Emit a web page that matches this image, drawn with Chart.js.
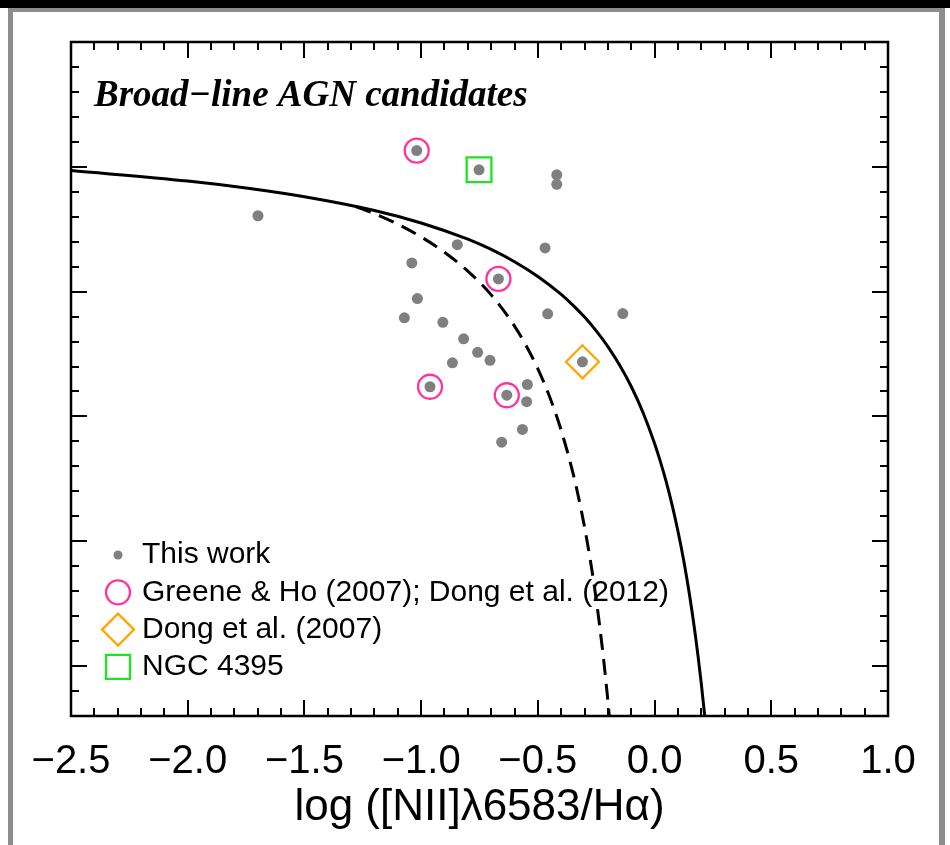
<!DOCTYPE html>
<html>
<head>
<meta charset="utf-8">
<title>Broad-line AGN candidates</title>
<script src="https://cdn.jsdelivr.net/npm/chart.js@4.4.1/dist/chart.umd.min.js"></script>
<style>
  html, body { margin: 0; padding: 0; background: #fff; }
  #page { position: relative; width: 950px; height: 845px; overflow: hidden; background: #fff; }
  #bar { position: absolute; left: 0; top: 0; width: 950px; height: 8px; background: #000; }
  #frame { position: absolute; left: 8px; top: 8px; width: 926px; height: 860px;
           border-left: 5px solid #8c8c8c; border-right: 6px solid #8c8c8c; border-top: 4px solid #8c8c8c; }
  canvas { position: absolute; left: 0; top: 0; }
</style>
</head>
<body>
<div id="page">
  <div id="bar"></div>
  <div id="frame"></div>
  <canvas id="bpt" width="950" height="845"></canvas>
</div>
<script>
(function () {
  'use strict';

  // --- data ---
  const thisWorkX = [-1.699, -1.019, -0.752, -0.419, -0.419, -0.845, -0.469, -1.040, -0.669, -1.016,
                     -1.072, -0.907, -0.458, -0.136, -0.818, -0.758, -0.705, -0.866, -0.309, -0.962,
                     -0.633, -0.545, -0.548, -0.566, -0.655];
  const thisWorkY = [0.804, 1.065, 0.988, 0.968, 0.930, 0.688, 0.675, 0.615, 0.551, 0.472,
                     0.395, 0.377, 0.411, 0.412, 0.311, 0.257, 0.225, 0.215, 0.219, 0.119,
                     0.085, 0.128, 0.059, -0.052, -0.103];

  const greeneX = [-1.019, -0.669, -0.962, -0.633];
  const greeneY = [1.065, 0.551, 0.119, 0.085];

  const dongX = [-0.309];
  const dongY = [0.219];

  const ngcX = [-0.752];
  const ngcY = [0.988];

  // demarcation curves (solid: Kewley et al. 2001, dashed: Kauffmann et al. 2003)
  const kewleyX = [-2.5, -2.0, -1.75, -1.5, -1.2, -1.0, -0.8, -0.7, -0.6, -0.5, -0.4, -0.35, -0.3, -0.25,
                   -0.2, -0.15, -0.1, -0.05, 0.0, 0.025, 0.05, 0.075, 0.1, 0.125, 0.15, 0.175, 0.2, 0.215];
  const kewleyY = [0.985, 0.943, 0.915, 0.880, 0.825, 0.775, 0.710, 0.669, 0.620, 0.561, 0.489, 0.446, 0.398, 0.343,
                   0.280, 0.206, 0.120, 0.017, -0.108, -0.181, -0.262, -0.354, -0.459, -0.578, -0.716, -0.878, -1.069, -1.202];

  const kauffX = [-1.28, -1.2, -1.1, -1.0, -0.9, -0.8, -0.7, -0.6, -0.55, -0.5, -0.45, -0.4, -0.35,
                  -0.325, -0.3, -0.275, -0.25, -0.22, -0.205, -0.194];
  const kauffY = [0.841, 0.812, 0.770, 0.719, 0.658, 0.582, 0.487, 0.362, 0.283, 0.191, 0.080, -0.056, -0.225,
                  -0.327, -0.443, -0.577, -0.733, -0.959, -1.092, -1.200];

  const legendLabels = ['This work', 'Greene & Ho (2007); Dong et al. (2012)', 'Dong et al. (2007)', 'NGC 4395'];
  const titleText = 'Broad\u2212line AGN candidates';
  const xTitle = 'log ([NII]\u03bb6583/H\u03b1)';

  const xRange = [-2.5, 1.0];
  const yRange = [-1.2, 1.5];
  const majorStep = 0.5;
  const minorStep = 0.1;

  const GRAY = '#808080';
  const PINK = '#ff3399';
  const ORANGE = '#ffa500';
  const GREEN = '#22e022';
  const SANS = '"Liberation Sans", Arial, Helvetica, sans-serif';
  const SERIF = '"Liberation Serif", "Times New Roman", serif';

  const pts = (xs, ys) => xs.map((x, i) => ({ x, y: ys[i] }));
  const fmt = v => {
    const s = Number(v).toFixed(1);
    return s.charAt(0) === '-' ? '\u2212' + s.slice(1) : s;
  };

  // tick positions (major every 0.5, minor every 0.1)
  const tickList = (lo, hi) => {
    const out = [];
    for (let k = Math.ceil(lo / minorStep - 1e-6); k * minorStep <= hi + 1e-6; k++) {
      const v = +(k * minorStep).toFixed(3);
      out.push({ v, major: Math.abs(v / majorStep - Math.round(v / majorStep)) < 1e-6 });
    }
    return out;
  };
  const xTicks = tickList(xRange[0], xRange[1]);
  const yTicks = tickList(yRange[0], yRange[1]);

  const drawMarker = (ctx, kind, x, y) => {
    ctx.beginPath();
    if (kind === 'dot') {
      ctx.fillStyle = GRAY;
      ctx.arc(x, y, 4.5, 0, Math.PI * 2);
      ctx.fill();
      return;
    }
    ctx.lineWidth = 2.3;
    if (kind === 'circle') {
      ctx.strokeStyle = PINK;
      ctx.arc(x, y, 12, 0, Math.PI * 2);
    } else if (kind === 'diamond') {
      ctx.strokeStyle = ORANGE;
      ctx.moveTo(x - 16, y); ctx.lineTo(x, y - 16); ctx.lineTo(x + 16, y); ctx.lineTo(x, y + 16);
      ctx.closePath();
    } else {
      ctx.strokeStyle = GREEN;
      ctx.rect(x - 12, y - 12, 24, 24);
    }
    ctx.stroke();
  };

  const framePlugin = {
    id: 'frameTicks',
    afterDatasetsDraw(chart) {
      const { ctx, chartArea: a, scales: { x, y } } = chart;
      ctx.save();

      // inward ticks on all four sides
      ctx.strokeStyle = '#000';
      ctx.lineWidth = 2;
      ctx.beginPath();
      xTicks.forEach(t => {
        const px = Math.round(x.getPixelForValue(t.v));
        const len = t.major ? 16 : 8;
        ctx.moveTo(px, a.bottom); ctx.lineTo(px, a.bottom - len);
        ctx.moveTo(px, a.top); ctx.lineTo(px, a.top + len);
      });
      yTicks.forEach(t => {
        const py = Math.round(y.getPixelForValue(t.v));
        const len = t.major ? 16 : 8;
        ctx.moveTo(a.left, py); ctx.lineTo(a.left + len, py);
        ctx.moveTo(a.right, py); ctx.lineTo(a.right - len, py);
      });
      ctx.stroke();

      ctx.lineWidth = 2.5;
      ctx.strokeRect(a.left, a.top, a.right - a.left, a.bottom - a.top);

      // title inside the box
      ctx.fillStyle = '#000';
      ctx.font = 'italic bold 37px ' + SERIF;
      ctx.textBaseline = 'alphabetic';
      ctx.textAlign = 'left';
      ctx.fillText(titleText, a.left + 23, a.top + 64);

      // legend, lower left
      const kinds = ['dot', 'circle', 'diamond', 'square'];
      ctx.font = '30px ' + SANS;
      ctx.textBaseline = 'middle';
      legendLabels.forEach((lab, i) => {
        const ly = a.bottom - 161 + i * 37.3;
        drawMarker(ctx, kinds[i], a.left + 47, ly);
        ctx.fillStyle = '#000';
        ctx.fillText(lab, a.left + 71, ly);
      });

      ctx.restore();
    }
  };

  const hidden = (pos, axis, size) => ({
    type: 'linear', position: pos, axis,
    min: axis === 'x' ? xRange[0] : yRange[0],
    max: axis === 'x' ? xRange[1] : yRange[1],
    grid: { display: false, drawTicks: false },
    border: { display: false },
    ticks: { display: false },
    afterFit: s => { if (axis === 'x') s.height = size; else s.width = size; }
  });

  new Chart(document.getElementById('bpt'), {
    type: 'scatter',
    data: {
      datasets: [
        { label: legendLabels[0], data: pts(thisWorkX, thisWorkY), pointRadius: 5.5,
          backgroundColor: GRAY, borderWidth: 0, pointStyle: 'circle' },
        { label: legendLabels[1], data: pts(greeneX, greeneY), pointRadius: 12, pointStyle: 'circle',
          backgroundColor: 'rgba(0,0,0,0)', borderColor: PINK, borderWidth: 2.3 },
        { label: legendLabels[2], data: pts(dongX, dongY), pointRadius: 16.5, pointStyle: 'rectRot',
          backgroundColor: 'rgba(0,0,0,0)', borderColor: ORANGE, borderWidth: 2.3 },
        { label: legendLabels[3], data: pts(ngcX, ngcY), pointRadius: 17.5, pointStyle: 'rect',
          backgroundColor: 'rgba(0,0,0,0)', borderColor: GREEN, borderWidth: 2.3 },
        { label: 'Kauffmann', data: pts(kauffX, kauffY), showLine: true, pointRadius: 0,
          borderColor: '#000', borderWidth: 3, borderDash: [16, 9], fill: false,
          cubicInterpolationMode: 'monotone' },
        { label: 'Kewley', data: pts(kewleyX, kewleyY), showLine: true, pointRadius: 0,
          borderColor: '#000', borderWidth: 3, fill: false, cubicInterpolationMode: 'monotone' }
      ]
    },
    options: {
      responsive: false,
      animation: false,
      events: [],
      layout: { padding: 0 },
      plugins: { legend: { display: false }, tooltip: { enabled: false } },
      scales: {
        x: {
          type: 'linear', position: 'bottom', min: xRange[0], max: xRange[1],
          grid: { display: false, drawTicks: false },
          border: { display: false },
          afterFit: s => { s.height = 129; },
          ticks: {
            stepSize: majorStep, autoSkip: false, maxRotation: 0, padding: 22, color: '#000',
            font: { family: SANS, size: 40 }, callback: v => fmt(v)
          },
          title: {
            display: true, text: xTitle, color: '#000',
            font: { family: SANS, size: 44 }, padding: { top: 0, bottom: 11 }
          }
        },
        y: hidden('left', 'y', 71),
        x2: hidden('top', 'x', 42),
        y2: hidden('right', 'y', 62)
      }
    },
    plugins: [framePlugin]
  });
})();
</script>
</body>
</html>
